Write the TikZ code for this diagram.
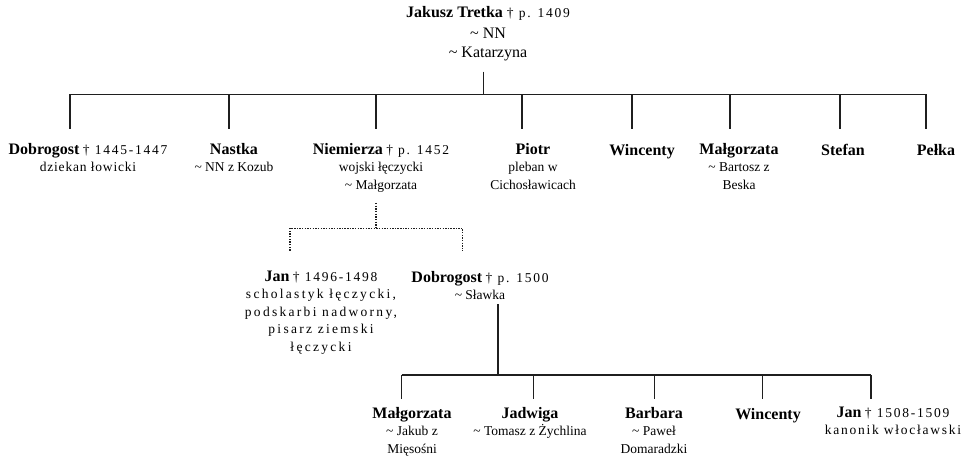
\documentclass[tikz,border=0pt]{standalone}
\usepackage{fontspec}
\setmainfont{Liberation Serif}
\newfontfamily\trackedfont[LetterSpace=13]{Liberation Serif}
\newfontfamily\lighttrack[LetterSpace=6]{Liberation Serif}
\newfontfamily\widetrack[LetterSpace=17]{Liberation Serif}
\newcommand\pname[1]{{\fontsize{16}{18}\selectfont\bfseries #1}}
\newcommand\pnote[1]{{\trackedfont #1}}
\newcommand\spouse{\textasciitilde\ }
\begin{document}
\begin{tikzpicture}[x=1pt,y=-1pt,
  person/.style={align=center, inner sep=0pt, anchor=north, yshift=12.25pt,
    font=\fontsize{13.5}{17.5}\selectfont, execute at begin node=\strut},
  kin/.style={line width=1.2pt, draw=black!88},
  uncertain/.style={line width=1.4pt, draw=black!88, dash pattern=on 1.4pt off 1.25pt}]
\useasboundingbox (0,0) rectangle (964,457);

% generation I
\node[person, yshift=1.4pt, font=\fontsize{16}{19.5}\selectfont] (root) at (488,19.5)
  {\pname{Jakusz Tretka} {\fontsize{13.5}{19.5}\selectfont\pnote{† p. 1409}}\\[1.5pt] \spouse NN\\ \spouse Katarzyna};

% generation II
\node[person] (c1) at (88,155) {\pname{Dobrogost} \pnote{† 1445-1447}\\ {\lighttrack dziekan łowicki}};
\node[person] (c2) at (234,155) {\pname{Nastka}\\ \spouse NN z Kozub};
\node[person] (c3) at (381,155) {\pname{Niemierza} \pnote{† p. 1452}\\ wojski łęczycki\\ \spouse Małgorzata};
\node[person] (c4) at (533,155) {\pname{Piotr}\\ pleban w\\ Cichosławicach};
\node[person] (c5) at (642,155) {\pname{Wincenty}};
\node[person] (c6) at (739,155) {\pname{Małgorzata}\\ \spouse Bartosz z\\ Beska};
\node[person] (c7) at (843,155) {\pname{Stefan}};
\node[person] (c8) at (936,155) {\pname{Pełka}};

% generation III
\node[person] (g1) at (321,283) {\pname{Jan} \pnote{† 1496-1498}\\ {\widetrack scholastyk łęczycki,}\\ {\widetrack podskarbi nadworny,}\\ {\widetrack pisarz ziemski}\\ {\widetrack łęczycki}};
\node[person] (g2) at (480,283) {\pname{Dobrogost} \pnote{† p. 1500}\\ \spouse Sławka};

% generation IV
\node[person] (h1) at (412,419) {\pname{Małgorzata}\\ \spouse Jakub z\\ Mięsośni};
\node[person] (h2) at (530,419) {\pname{Jadwiga}\\ \spouse Tomasz z Żychlina};
\node[person] (h3) at (654,419) {\pname{Barbara}\\ \spouse Paweł\\ Domaradzki};
\node[person] (h4) at (768,419) {\pname{Wincenty}};
\node[person] (h5) at (893,419) {\pname{Jan} \pnote{† 1508-1509}\\ \pnote{kanonik włocławski}};

% junction points of the first family
\coordinate (rs) at (483.3,71.7);
\coordinate (rb) at (483.3,94.5);
\foreach \n/\x in {c1/70,c2/229,c3/376,c4/522,c5/632,c6/730,c7/840,c8/926}{
  \coordinate (\n t) at (\x,94.5);
  \coordinate (\n b) at (\x,129);
}
\draw[kin] (rs) -- (rb);
\draw[kin] (c1t) -- (c8t);
\foreach \n in {c1,c2,c3,c4,c5,c6,c7,c8}{\draw[kin] (\n t) -- (\n b);}

% uncertain descent from Niemierza
\coordinate (ns) at (376,203);
\coordinate (nb) at (376,228.3);
\coordinate (g1t) at (290,228.3);
\coordinate (g1b) at (290,250.7);
\coordinate (g2t) at (462.7,228.3);
\coordinate (g2b) at (462.7,250.7);
\draw[uncertain] (ns) -- (nb);
\draw[uncertain] (g1b) -- (g1t) -- (g2t) -- (g2b);

% children of Dobrogost
\coordinate (ds) at (498,304);
\coordinate (db) at (498,375);
\foreach \n/\x in {h1/401.7,h2/533.7,h3/654.3,h4/762.3,h5/871}{
  \coordinate (\n t) at (\x,375);
  \coordinate (\n b) at (\x,399.3);
}
\draw[kin] (ds) -- (db);
\draw[kin] (h1t) -- (h5t);
\foreach \n in {h1,h2,h3,h4,h5}{\draw[kin] (\n t) -- (\n b);}
\end{tikzpicture}
\end{document}
